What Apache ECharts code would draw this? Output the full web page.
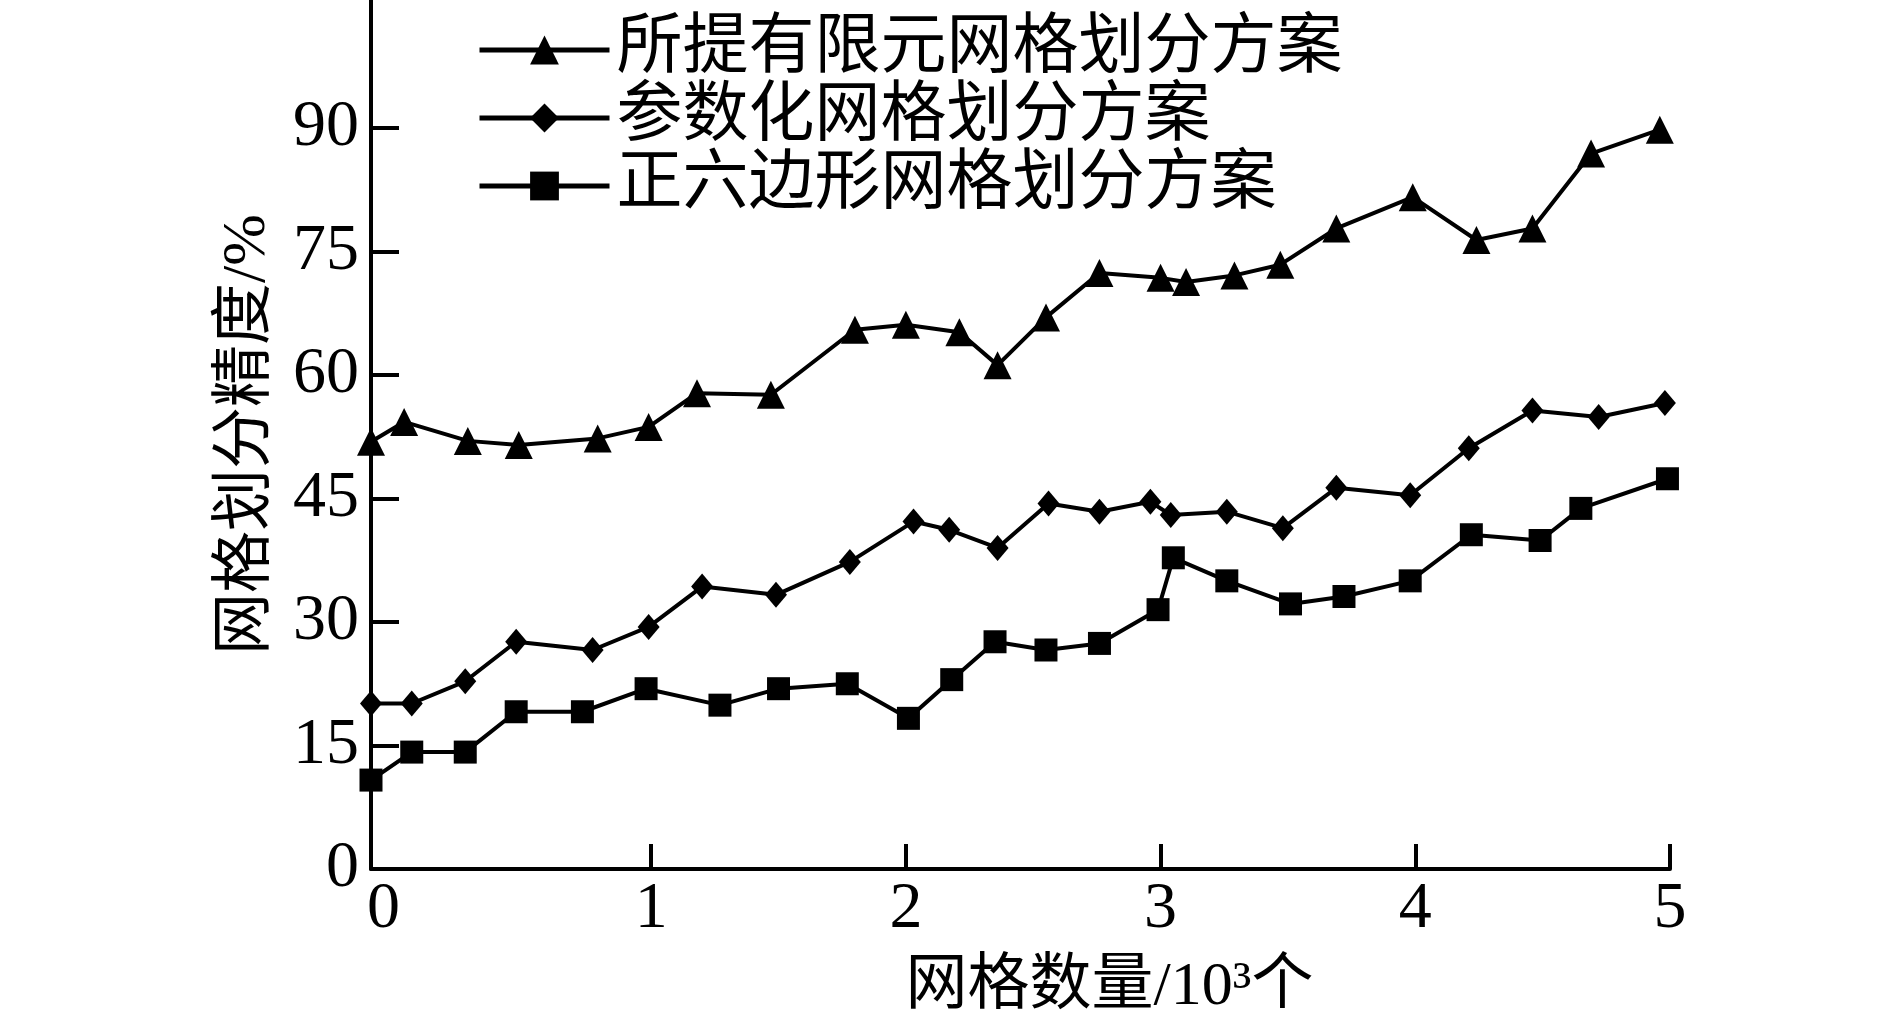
<!DOCTYPE html>
<html>
<head>
<meta charset="utf-8">
<script src="https://cdn.jsdelivr.net/npm/echarts@6/dist/echarts.min.js"></script>
<style>
  html, body { margin: 0; padding: 0; background: #fff; }
  #chart { width: 1890px; height: 1033px; }
</style>
</head>
<body>
<div id="chart"></div>
<script>
// 网格数量 (10^3 个) and 精度 (%)
const seriesNames = ["所提有限元网格划分方案", "参数化网格划分方案", "正六边形网格划分方案"];

const proposedX = [-0.1, 0.03, 0.28, 0.48, 0.79, 0.99, 1.18, 1.47, 1.80, 2.00, 2.21, 2.36, 2.55, 2.76, 3.00, 3.10, 3.29, 3.47, 3.69, 3.99, 4.24, 4.46, 4.69, 4.96];
const proposedY = [51.9, 54.3, 52.0, 51.5, 52.3, 53.7, 57.8, 57.6, 65.5, 66.1, 65.2, 61.2, 67.0, 72.4, 71.8, 71.3, 72.1, 73.4, 77.8, 81.6, 76.4, 77.8, 86.9, 89.8];

const paramX = [-0.1, 0.06, 0.27, 0.47, 0.77, 0.99, 1.20, 1.49, 1.78, 2.03, 2.17, 2.36, 2.56, 2.76, 2.96, 3.04, 3.26, 3.48, 3.69, 3.98, 4.21, 4.46, 4.72, 4.98];
const paramY = [20.1, 20.1, 22.8, 27.6, 26.6, 29.4, 34.3, 33.3, 37.3, 42.2, 41.2, 39.0, 44.4, 43.4, 44.6, 43.0, 43.4, 41.4, 46.3, 45.4, 51.1, 55.7, 54.9, 56.6];

const hexX = [-0.1, 0.06, 0.27, 0.47, 0.73, 0.98, 1.27, 1.50, 1.77, 2.01, 2.18, 2.35, 2.55, 2.76, 2.99, 3.05, 3.26, 3.51, 3.72, 3.98, 4.22, 4.49, 4.65, 4.99];
const hexY = [10.8, 14.2, 14.2, 19.1, 19.1, 21.9, 19.9, 21.9, 22.5, 18.3, 23.0, 27.6, 26.6, 27.4, 31.5, 37.8, 35.0, 32.2, 33.1, 35.0, 40.6, 39.9, 43.8, 47.4];

const xTickLabels = [0, 1, 2, 3, 4, 5];
const xTicks = [1, 2, 3, 4, 5];
const yTicks = [0, 15, 30, 45, 60, 75, 90];

const zip = (xs, ys) => xs.map((x, i) => [x, ys[i]]);

const SERIF = "'Liberation Serif', 'Noto Sans CJK SC', serif";

const chart = echarts.init(document.getElementById("chart"));

const lineSeries = (name, data, symbol, size) => ({
  name: name,
  type: "line",
  data: data,
  symbol: symbol,
  symbolSize: size,
  showAllSymbol: true,
  lineStyle: { color: "#000", width: 4 },
  itemStyle: { color: "#000" },
  emphasis: { disabled: true },
  animation: false,
});

const option = {
  animation: false,
  grid: { left: 371, right: 220, top: 0, bottom: 164, containLabel: false },
  legend: {
    orient: "vertical",
    left: 472,
    top: 12,
    itemWidth: 130,
    itemHeight: 36,
    itemGap: 2,
    lineStyle: { width: 5, color: "#000" },
    textStyle: {
      fontFamily: SERIF,
      fontSize: 66,
      lineHeight: 66,
      color: "#000",
      padding: [0, 0, 0, 2],
    },
    data: seriesNames,
  },
  xAxis: {
    type: "value",
    min: -0.1,
    max: 5,
    name: "网格数量/10³个",
    nameLocation: "middle",
    nameGap: 88,
    nameTextStyle: {
      fontFamily: SERIF,
      fontSize: 62,
      color: "#000",
      padding: [0, 0, 0, 178],
    },
    axisLine: { onZero: false, lineStyle: { color: "#000", width: 4 } },
    axisTick: {
      inside: true,
      length: 25,
      customValues: xTicks,
      lineStyle: { color: "#000", width: 4 },
    },
    axisLabel: {
      customValues: xTickLabels,
      margin: 8,
      fontFamily: SERIF,
      fontSize: 66,
      color: "#000",
      formatter: (v) => (v === 0 ? "{z|0}" : String(v)),
      rich: { z: { fontFamily: SERIF, fontSize: 66, color: "#000", padding: [0, 26, 0, 0] } },
    },
    splitLine: { show: false },
  },
  yAxis: {
    type: "value",
    min: 0,
    max: 105.55,
    name: "网格划分精度/%",
    nameLocation: "middle",
    nameRotate: 90,
    nameGap: 92,
    nameTextStyle: {
      fontFamily: SERIF,
      fontSize: 62,
      color: "#000",
    },
    axisLine: { show: true, onZero: false, lineStyle: { color: "#000", width: 4 } },
    axisTick: {
      show: true,
      inside: true,
      length: 28,
      customValues: yTicks,
      lineStyle: { color: "#000", width: 4 },
    },
    axisLabel: {
      customValues: yTicks,
      margin: 12,
      fontFamily: SERIF,
      fontSize: 66,
      color: "#000",
    },
    splitLine: { show: false },
  },
  series: [
    lineSeries(seriesNames[0], zip(proposedX, proposedY), "triangle", 28),
    lineSeries(seriesNames[1], zip(paramX, paramY), "diamond", [22, 26]),
    lineSeries(seriesNames[2], zip(hexX, hexY), "rect", 23),
  ],
};

chart.setOption(option);
</script>
</body>
</html>
